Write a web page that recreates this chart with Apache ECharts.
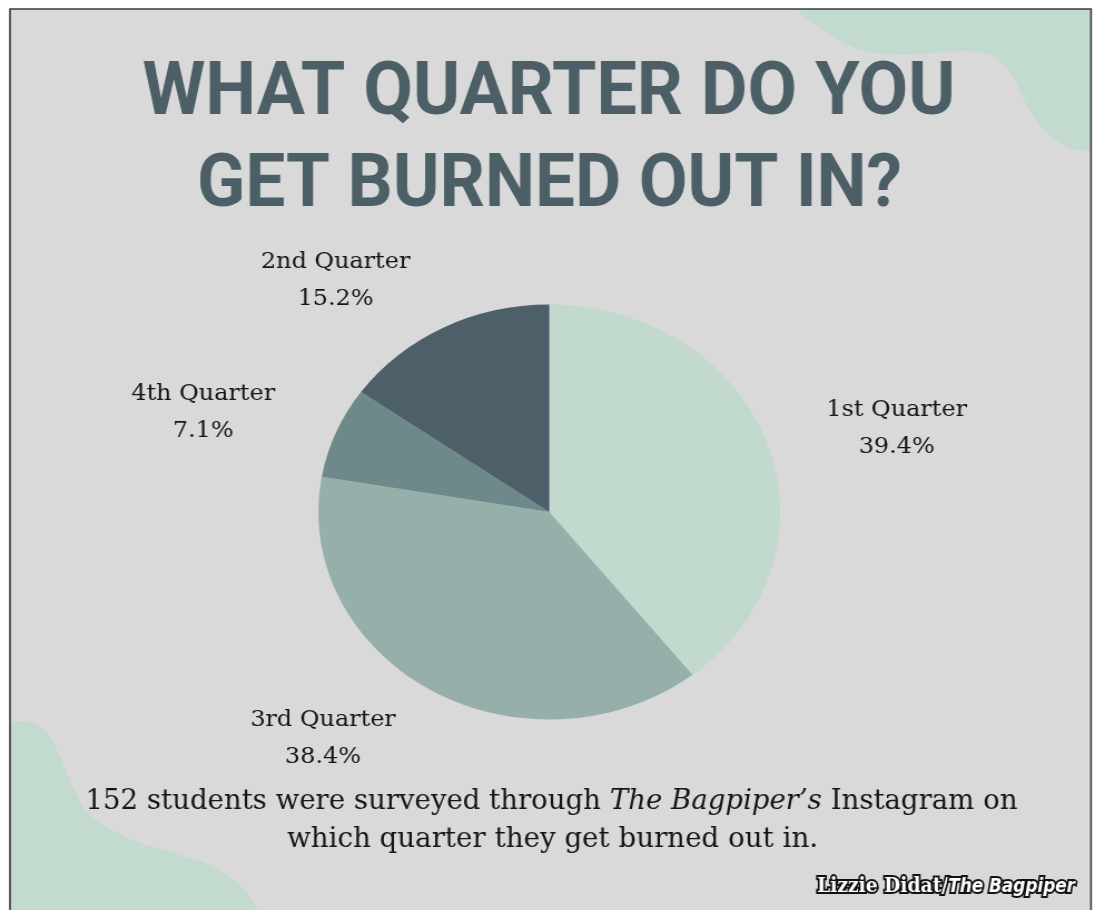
<!DOCTYPE html>
<html><head><meta charset="utf-8">
<script src="https://cdn.jsdelivr.net/npm/echarts@6/dist/echarts.min.js"></script>
<style>
html,body{margin:0;padding:0;background:#ffffff;overflow:hidden;}
#chart{position:absolute;left:0;top:0;width:984px;height:910px;transform:scaleX(1.1128049);transform-origin:0 0;}
</style></head><body><div id="chart"></div>
<script>
// ---- data ----
const categories = ['1st Quarter', '3rd Quarter', '4th Quarter', '2nd Quarter'];
const percents = [39.4, 38.4, 7.1, 15.2];
const titleLines = ['WHAT QUARTER DO YOU', 'GET BURNED OUT IN?'];
const captionLine1 = ['152 students were surveyed through ', 'The Bagpiper\u2019s', ' Instagram on'];
const captionLine2 = 'which quarter they get burned out in.';
const creditParts = ['Lizzie Didat/', 'The Bagpiper'];

// ---- styling / layout (reference pixel space, stretched horizontally) ----
const S = 1095 / 984;
const sliceColors = ['#c2d9cd', '#97afab', '#6e8989', '#4d606a'];
const labelCenters = [[896.7, 429], [323, 739], [203.2, 412.5], [335.6, 281]];

const mctx = document.createElement('canvas').getContext('2d');
function tw(font, text) { mctx.font = font; return mctx.measureText(text).width; }

const titleFont = 'bold 74px Roboto';
const t1w = tw(titleFont, titleLines[0]);
const t2w = tw(titleFont, titleLines[1]);

const capR = '28px "DejaVu Serif"';
const capI = 'italic 28px "DejaVu Serif"';
const c1w = tw(capR, captionLine1[0]) + tw(capI, captionLine1[1]) + tw(capR, captionLine1[2]);
const c2w = tw(capR, captionLine2);

const crA = 'bold 20px "DejaVu Serif"';
const crB = 'italic bold 20px "DejaVu Sans Condensed"';
const crw = tw(crA, creditParts[0]) + tw(crB, creditParts[1]);

const X = v => v / S;

const blobTR = [[780,-30],[797,9],[812,22],[835,38],[862,50],[900,55],[960,51],[990,55],[1010,72],[1027,105],[1045,131],[1068,147],[1091,151],[1120,152],[1160,-40]];
const blobBL = [[-30,716],[10,721],[28,722],[45,731],[60,757],[73,787],[87,812],[102,824],[133,840],[173,853],[207,864],[233,880],[250,897],[262,935],[-30,935]];

const chart = echarts.init(document.getElementById('chart'), null, {renderer: 'canvas'});
chart.setOption({
  animation: false,
  backgroundColor: 'transparent',
  graphic: [
    {type: 'rect', z: -20, shape: {x: X(10), y: 9, width: X(1081), height: 920}, style: {fill: '#d9d9d9'}},
    {type: 'polygon', z: -15, shape: {points: blobTR.map(p => [X(p[0]), p[1]]), smooth: 0.35}, style: {fill: '#c3dacf'}},
    {type: 'polygon', z: -15, shape: {points: blobBL.map(p => [X(p[0]), p[1]]), smooth: 0.35}, style: {fill: '#c3dacf'}},
    {type: 'rect', z: -10, shape: {x: -5, y: -5, width: 1000, height: 14}, style: {fill: '#ffffff'}},
    {type: 'rect', z: -10, shape: {x: -5, y: -5, width: X(10) + 5, height: 930}, style: {fill: '#ffffff'}},
    {type: 'rect', z: -10, shape: {x: X(1091), y: -5, width: 50, height: 930}, style: {fill: '#ffffff'}},
    {type: 'rect', z: -5, shape: {x: X(10), y: 9, width: X(1081), height: 930}, style: {fill: null, stroke: '#3a3a3a', lineWidth: 1.6}},
    {type: 'text', z: 10, x: X(549), y: 95, scaleX: X(813) / t1w,
      style: {text: titleLines[0], fontFamily: 'Roboto', fontWeight: 'bold', fontSize: 74, fill: '#4d5f66', align: 'center', verticalAlign: 'middle'}},
    {type: 'text', z: 10, x: X(549.5), y: 187, scaleX: X(705) / t2w,
      style: {text: titleLines[1], fontFamily: 'Roboto', fontWeight: 'bold', fontSize: 74, fill: '#4d5f66', align: 'center', verticalAlign: 'middle'}},
    {type: 'text', z: 10, x: X(551.5), y: 802, scaleX: X(932) / c1w,
      style: {text: '{r|' + captionLine1[0] + '}{i|' + captionLine1[1] + '}{r|' + captionLine1[2] + '}',
        align: 'center', verticalAlign: 'middle',
        rich: {
          r: {fontFamily: 'DejaVu Serif', fontSize: 28, fill: '#151515'},
          i: {fontFamily: 'DejaVu Serif', fontStyle: 'italic', fontSize: 28, fill: '#151515'}
        }}},
    {type: 'text', z: 10, x: X(552.5), y: 840, scaleX: X(531) / c2w,
      style: {text: captionLine2, fontFamily: 'DejaVu Serif', fontSize: 28, fill: '#151515', align: 'center', verticalAlign: 'middle'}},
    {type: 'text', z: 10, x: X(946), y: 887, scaleX: X(258) / crw,
      style: {text: '{a|' + creditParts[0] + '}{b|' + creditParts[1] + '}',
        align: 'center', verticalAlign: 'middle',
        rich: {
          a: {fontFamily: 'DejaVu Serif', fontWeight: 'bold', fontSize: 20, fill: '#ffffff', stroke: '#111111', lineWidth: 4},
          b: {fontFamily: 'DejaVu Sans Condensed', fontStyle: 'italic', fontWeight: 'bold', fontSize: 20, fill: '#ffffff', stroke: '#111111', lineWidth: 4}
        }}}
  ],
  series: [{
    type: 'pie',
    center: [X(549.3), 512],
    radius: 207.5,
    startAngle: 90,
    clockwise: true,
    avoidLabelOverlap: false,
    silent: true,
    emphasis: {disabled: true},
    itemStyle: {borderWidth: 0},
    labelLine: {show: false},
    label: {
      show: true,
      position: 'outside',
      formatter: p => p.name + '\n' + p.value + '%',
      fontFamily: 'DejaVu Serif',
      fontSize: 21.5,
      lineHeight: 37,
      color: '#151515'
    },
    labelLayout: p => {
      const c = labelCenters[p.dataIndex];
      return {x: X(c[0]), y: c[1], align: 'center', verticalAlign: 'middle'};
    },
    data: categories.map((c, i) => ({name: c, value: percents[i], itemStyle: {color: sliceColors[i]}}))
  }]
});
</script>
</body></html>
